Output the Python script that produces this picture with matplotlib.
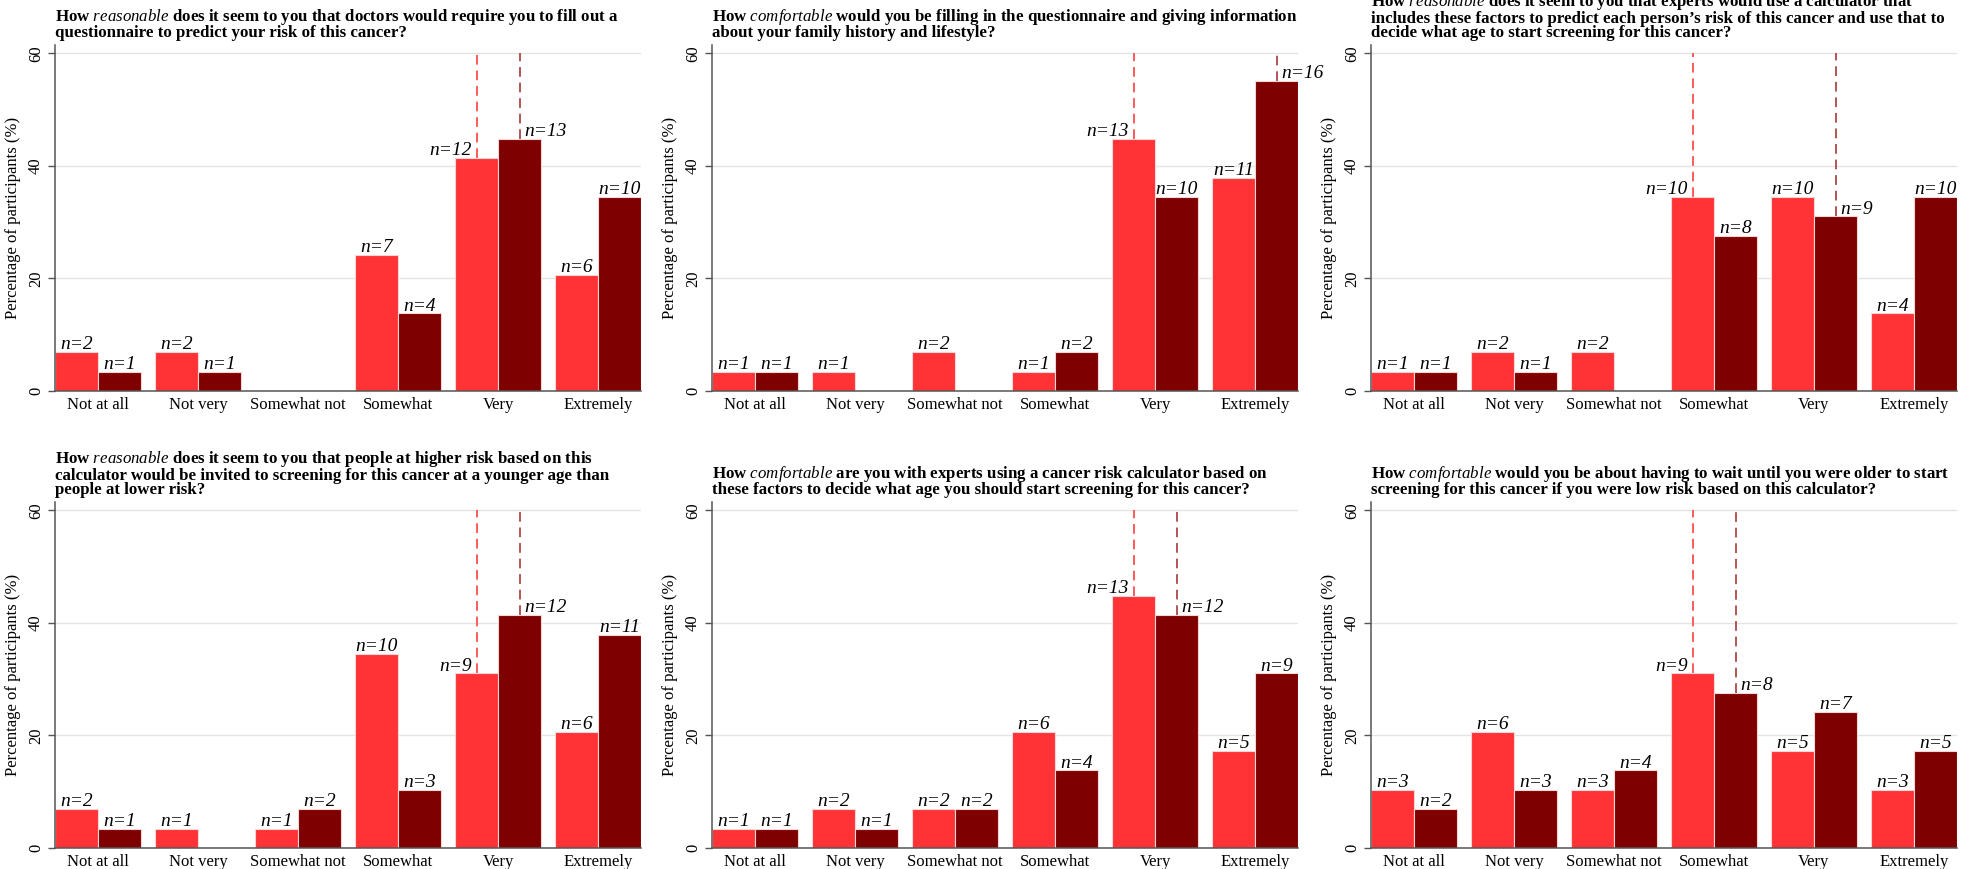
import numpy as np
import matplotlib
matplotlib.use("Agg")
import matplotlib.pyplot as plt
from matplotlib.transforms import offset_copy

plt.rcParams["font.family"] = ["Liberation Serif", "DejaVu Serif"]
plt.rcParams["mathtext.fontset"] = "custom"
plt.rcParams["mathtext.rm"] = "Liberation Serif:bold"
plt.rcParams["mathtext.it"] = "Liberation Serif:italic"

categories = ["Not at all", "Not very", "Somewhat not", "Somewhat", "Very", "Extremely"]
n_total = 29

titles = [
    "How $\\mathit{reasonable}$ does it seem to you that doctors would require you to fill out a\n"
    "questionnaire to predict your risk of this cancer?",
    "How $\\mathit{comfortable}$ would you be filling in the questionnaire and giving information\n"
    "about your family history and lifestyle?",
    "How $\\mathit{reasonable}$ does it seem to you that experts would use a calculator that\n"
    "includes these factors to predict each person\u2019s risk of this cancer and use that to\n"
    "decide what age to start screening for this cancer?",
    "How $\\mathit{reasonable}$ does it seem to you that people at higher risk based on this\n"
    "calculator would be invited to screening for this cancer at a younger age than\n"
    "people at lower risk?",
    "How $\\mathit{comfortable}$ are you with experts using a cancer risk calculator based on\n"
    "these factors to decide what age you should start screening for this cancer?",
    "How $\\mathit{comfortable}$ would you be about having to wait until you were older to start\n"
    "screening for this cancer if you were low risk based on this calculator?",
]

# response counts per question (light group, dark group)
light_counts = [
    [2, 2, 0, 7, 12, 6],
    [1, 1, 2, 1, 13, 11],
    [1, 2, 2, 10, 10, 4],
    [2, 1, 1, 10, 9, 6],
    [1, 2, 2, 6, 13, 5],
    [3, 6, 3, 9, 5, 3],
]
dark_counts = [
    [1, 1, 0, 4, 13, 10],
    [1, 0, 0, 2, 10, 16],
    [1, 1, 0, 8, 9, 10],
    [1, 0, 2, 3, 12, 11],
    [1, 1, 2, 4, 12, 9],
    [2, 3, 4, 8, 7, 5],
]

LIGHT = "#ff3336"
DARK = "#7f0000"
LIGHT_LINE = "#ff5a5a"
DARK_LINE = "#b05555"
BAR_W = 0.43

W, H = 1977, 869
fig = plt.figure(figsize=(W / 100, H / 100), dpi=100)

lefts = [55, 712, 1371]
rows = [(45, 391), (502, 848)]
ax_w = 586


def median_index(counts):
    cum = np.cumsum(counts)
    return int(np.searchsorted(cum, (cum[-1] + 1) / 2))


for k in range(6):
    r, c = divmod(k, 3)
    top, bot = rows[r]
    ax = fig.add_axes([lefts[c] / W, 1 - bot / H, ax_w / W, (bot - top) / H])
    x = np.arange(len(categories))
    for counts, shift, color, lcolor, side in [
        (light_counts[k], -BAR_W / 2, LIGHT, LIGHT_LINE, "right"),
        (dark_counts[k], BAR_W / 2, DARK, DARK_LINE, "left"),
    ]:
        counts = np.array(counts)
        pct = counts / n_total * 100
        ax.bar(x + shift, pct, width=BAR_W, color=color,
               edgecolor="#f4d6d6", linewidth=0.8, zorder=2)
        med = median_index(counts)
        ax.plot([med + shift, med + shift], [pct[med], 60], color=lcolor,
                lw=1.4, dashes=(5, 3), zorder=3)
        for i, (cnt, p) in enumerate(zip(counts, pct)):
            if cnt == 0:
                continue
            if i == med:
                dx = -3.5 if side == "right" else 3.5
                ha = side
            else:
                dx, ha = 0, "center"
            ax.annotate(f"n={cnt}", (i + shift, p), xytext=(dx, 2),
                        textcoords="offset points", ha=ha, va="baseline",
                        fontsize=14, fontstyle="italic", zorder=4)

    ax.set_xlim(-BAR_W, len(categories) - 1 + BAR_W)
    ax.set_ylim(0, 61.5)
    ax.set_yticks([0, 20, 40, 60])
    ax.set_xticks(x)
    ax.set_xticklabels(categories, fontsize=12)
    ax.tick_params(axis="x", length=0, pad=4)
    ax.tick_params(axis="y", length=5, width=1, color="#555555", labelsize=12, pad=3)
    for lab in ax.get_yticklabels():
        lab.set_rotation(90)
        lab.set_va("center")
    ax.yaxis.grid(True, color="#e4e4e4", lw=1, zorder=0)
    ax.set_axisbelow(True)
    for s in ["top", "right"]:
        ax.spines[s].set_visible(False)
    for s in ["left", "bottom"]:
        ax.spines[s].set_color("#555555")
        ax.spines[s].set_linewidth(1.1)
    ax.set_ylabel("Percentage of participants (%)", fontsize=12, labelpad=5)
    title_tr = offset_copy(ax.transAxes, fig=fig, x=0, y=3, units="points")
    ax.text(0, 1.0, titles[k], transform=title_tr, ha="left", va="bottom",
            fontsize=12.2, fontweight="bold", linespacing=0.85)

fig.savefig("out.png", dpi=100)
